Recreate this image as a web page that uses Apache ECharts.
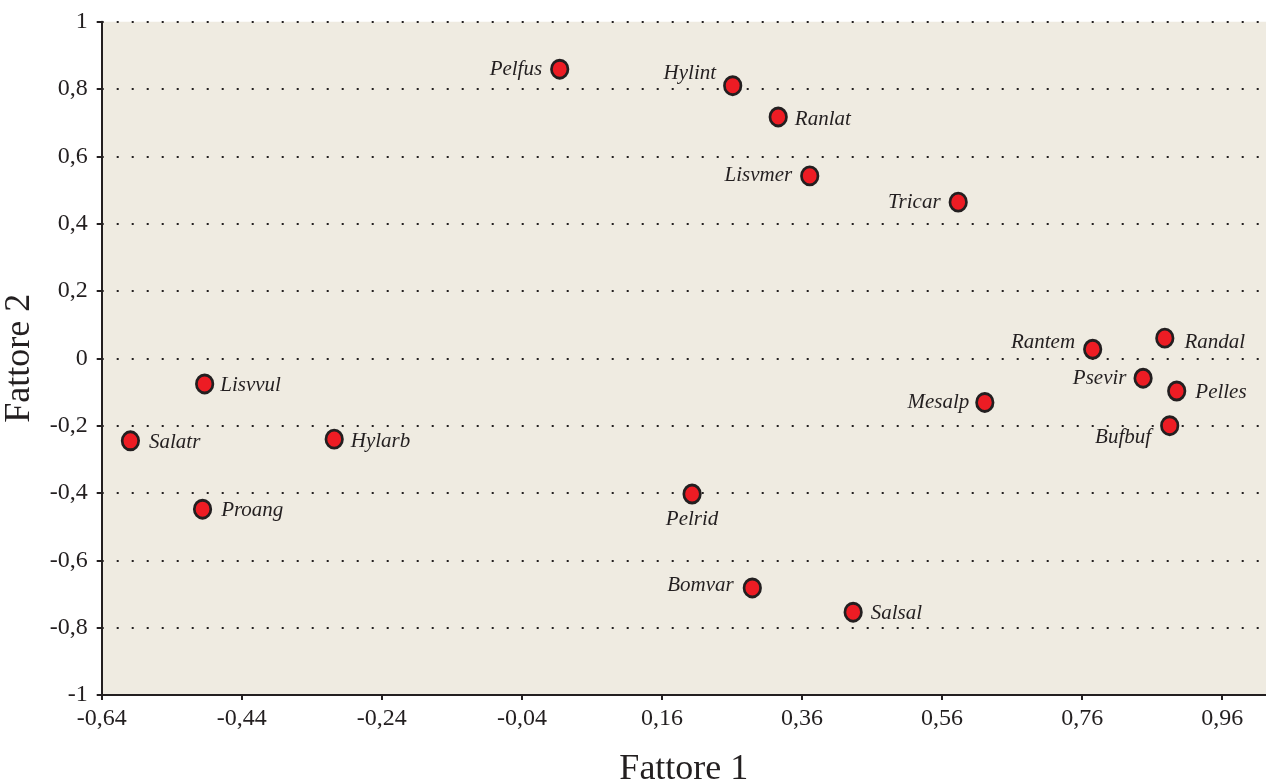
<!DOCTYPE html>
<html>
<head>
<meta charset="utf-8">
<title>Fattore 1 / Fattore 2</title>
<script src="https://cdn.jsdelivr.net/npm/echarts@6/dist/echarts.min.js"></script>
<style>
  html, body { margin: 0; padding: 0; background: #ffffff; }
  #chart { width: 1266px; height: 780px; }
</style>
</head>
<body>
<div id="chart"></div>
<script>
// Species scores on the first two factors
const species = ['Pelfus', 'Hylint', 'Ranlat', 'Lisvmer', 'Tricar', 'Rantem', 'Randal', 'Psevir', 'Pelles',
                 'Mesalp', 'Bufbuf', 'Lisvvul', 'Salatr', 'Hylarb', 'Proang', 'Pelrid', 'Bomvar', 'Salsal'];
const fattore1 = [0.014, 0.261, 0.326, 0.371, 0.583, 0.775, 0.878, 0.847, 0.895,
                  0.621, 0.885, -0.493, -0.599, -0.308, -0.496, 0.203, 0.289, 0.433];
const fattore2 = [0.859, 0.810, 0.717, 0.542, 0.464, 0.027, 0.060, -0.059, -0.097,
                  -0.131, -0.200, -0.076, -0.245, -0.240, -0.448, -0.403, -0.682, -0.754];

// Axis ticks
const xTicks = [-0.64, -0.44, -0.24, -0.04, 0.16, 0.36, 0.56, 0.76, 0.96];
const yTicks = [-1, -0.8, -0.6, -0.4, -0.2, 0, 0.2, 0.4, 0.6, 0.8, 1];

// Where each name sits relative to its marker
const labelLayout = {
  Pelfus:  { position: 'left',   distance: 8,  offset: [0, 0] },
  Hylint:  { position: 'left',   distance: 7,  offset: [0, -12] },
  Ranlat:  { position: 'right',  distance: 7,  offset: [0, 3] },
  Lisvmer: { position: 'left',   distance: 8,  offset: [0, 0] },
  Tricar:  { position: 'left',   distance: 8,  offset: [0, 0] },
  Rantem:  { position: 'left',   distance: 8,  offset: [0, -7] },
  Randal:  { position: 'right',  distance: 10, offset: [0, 4] },
  Psevir:  { position: 'left',   distance: 7,  offset: [0, 0] },
  Pelles:  { position: 'right',  distance: 9,  offset: [0, 1] },
  Mesalp:  { position: 'left',   distance: 6,  offset: [0, 0] },
  Bufbuf:  { position: 'left',   distance: 9,  offset: [0, 12] },
  Lisvvul: { position: 'right',  distance: 6,  offset: [0, 2] },
  Salatr:  { position: 'right',  distance: 9,  offset: [0, 2] },
  Hylarb:  { position: 'right',  distance: 7,  offset: [0, 2] },
  Proang:  { position: 'right',  distance: 9,  offset: [0, 1] },
  Pelrid:  { position: 'bottom', distance: 5,  offset: [0, 0] },
  Bomvar:  { position: 'left',   distance: 9,  offset: [0, -2] },
  Salsal:  { position: 'right',  distance: 8,  offset: [0, 1] }
};

const ink = '#231f20';
const serif = '"Liberation Serif", "Times New Roman", serif';
const comma = (s) => s.replace('.', ',');

const points = species.map((name, i) => ({
  name: name,
  value: [fattore1[i], fattore2[i]],
  label: labelLayout[name]
}));

const chart = echarts.init(document.getElementById('chart'), null, { renderer: 'canvas' });
chart.setOption({
  backgroundColor: '#ffffff',
  animation: false,
  grid: {
    left: 101.7, right: 0, top: 21.7, bottom: 85,
    outerBoundsMode: 'none',
    containLabel: false,
    show: true, backgroundColor: '#efebe1', borderWidth: 0
  },
  xAxis: {
    type: 'value',
    min: xTicks[0], max: 1.0225, interval: 0.2,
    name: 'Fattore 1', nameLocation: 'middle', nameGap: 57,
    nameMoveOverlap: false,
    nameTextStyle: { fontFamily: serif, fontSize: 36, color: ink },
    axisLine: { show: true, onZero: false, lineStyle: { color: ink, width: 2 } },
    axisTick: { show: true, length: 5, customValues: xTicks, lineStyle: { color: ink, width: 2 } },
    axisLabel: {
      margin: 12, fontFamily: serif, fontSize: 24, color: ink,
      customValues: xTicks,
      formatter: (v) => comma(v.toFixed(2))
    },
    splitLine: { show: false }
  },
  yAxis: {
    type: 'value',
    min: yTicks[0], max: yTicks[yTicks.length - 1], interval: 0.2,
    name: 'Fattore 2', nameLocation: 'middle', nameGap: 64,
    nameMoveOverlap: false,
    nameTextStyle: { fontFamily: serif, fontSize: 36, color: ink },
    axisLine: { show: true, onZero: false, lineStyle: { color: ink, width: 2 } },
    axisTick: { show: true, length: 5, lineStyle: { color: ink, width: 2 } },
    axisLabel: {
      margin: 14, fontFamily: serif, fontSize: 24, color: ink,
      formatter: (v) => {
        const r = Math.round(v * 10) / 10;
        return Number.isInteger(r) ? String(r) : comma(r.toFixed(1));
      }
    },
    splitLine: {
      show: true,
      lineStyle: { color: ink, width: 2, type: [2, 13] }
    }
  },
  series: [{
    type: 'scatter',
    data: points,
    symbol: 'circle',
    symbolSize: [16.5, 18],
    itemStyle: { color: '#ed1c24', borderColor: ink, borderWidth: 2.8, opacity: 1 },
    label: {
      show: true,
      formatter: '{b}',
      fontFamily: serif, fontStyle: 'italic', fontSize: 21, color: ink
    },
    emphasis: { disabled: true }
  }]
});
</script>
</body>
</html>
